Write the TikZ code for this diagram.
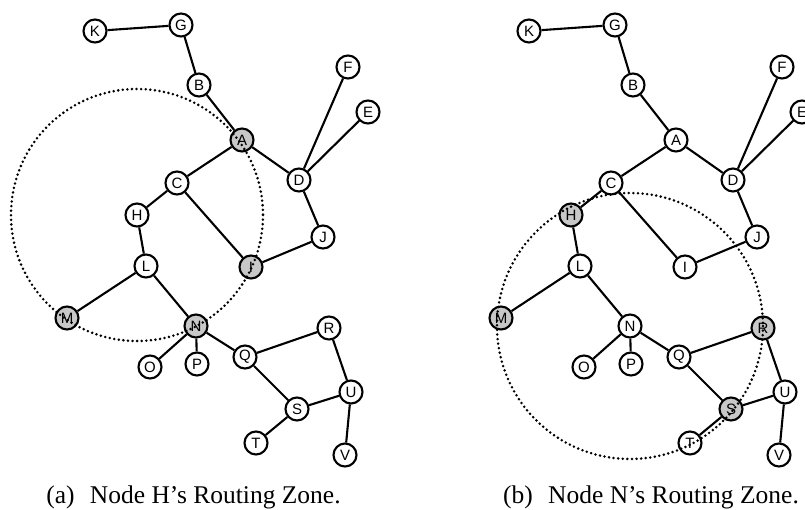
\documentclass[tikz,border=0pt]{standalone}
\usepackage{fontspec}
\setmainfont{Liberation Serif}
\setsansfont{Liberation Sans}
\definecolor{zonegray}{RGB}{200,200,200}
\begin{document}
\begin{tikzpicture}[x=1pt,y=-1pt,
  vtx/.style={circle,draw,line width=2.1pt,minimum size=23pt,inner sep=0pt,fill=white,
    font=\sffamily\fontsize{15}{15}\selectfont},
  gvtx/.style={vtx,fill=zonegray},
  edge/.style={line width=2.1pt},
  zone/.style={line width=2.8pt,dash pattern=on 0pt off 4.6pt,line cap=round},
  captext/.style={font=\fontsize{25.5}{25.5}\selectfont,anchor=base,inner sep=0pt}]
\useasboundingbox (0,0) rectangle (805,510);

% ---------- panel (a) ----------
\begin{scope}[name prefix=a]
  \foreach \n/\x/\y in {K/95/31,G/181/25,B/199/85,F/348/67,E/368/112,D/299/180,
      C/177/183,H/137/215,J/323/237,L/146/266,O/150/367,P/197/364,Q/245/357,
      R/329/328,U/351/392,S/297/409,T/256/443,V/345/455}
    \node[vtx] (\n) at (\x,\y) {\n};
  \foreach \n/\x/\y in {A/242/140,I/251/267,M/67/318,N/196/326}
    \node[gvtx] (\n) at (\x,\y) {\n};
  \foreach \u/\v in {K/G,G/B,B/A,A/C,A/D,D/F,D/E,D/J,J/I,C/I,C/H,H/L,L/M,L/N,
      N/O,N/P,N/Q,Q/R,R/U,Q/S,S/U,S/T,U/V}
    \draw[edge] (\u) -- (\v);
  \draw[zone] (H.center) circle[radius=126];
\end{scope}
\node[captext] (capa) at (193.5,503) {(a)\hspace{0.6em}Node H’s Routing Zone.};

% ---------- panel (b) ----------
\begin{scope}[xshift=434pt,name prefix=b]
  \foreach \n/\x/\y in {K/95/31,G/181/25,B/199/85,A/242/140,F/348/67,E/368/112,
      D/299/180,C/177/183,J/323/237,I/251/267,L/146/266,N/196/326,O/150/367,
      P/197/364,Q/245/357,U/351/392,T/256/443,V/345/455}
    \node[vtx] (\n) at (\x,\y) {\n};
  \foreach \n/\x/\y in {H/137/215,M/67/318,R/329/328,S/297/409}
    \node[gvtx] (\n) at (\x,\y) {\n};
  \foreach \u/\v in {K/G,G/B,B/A,A/C,A/D,D/F,D/E,D/J,J/I,C/I,C/H,H/L,L/M,L/N,
      N/O,N/P,N/Q,Q/R,R/U,Q/S,S/U,S/T,U/V}
    \draw[edge] (\u) -- (\v);
  \draw[zone] (N.center) circle[radius=133];
\end{scope}
\node[captext] (capb) at (651,503) {(b)\hspace{0.6em}Node N’s Routing Zone.};
\end{tikzpicture}
\end{document}
